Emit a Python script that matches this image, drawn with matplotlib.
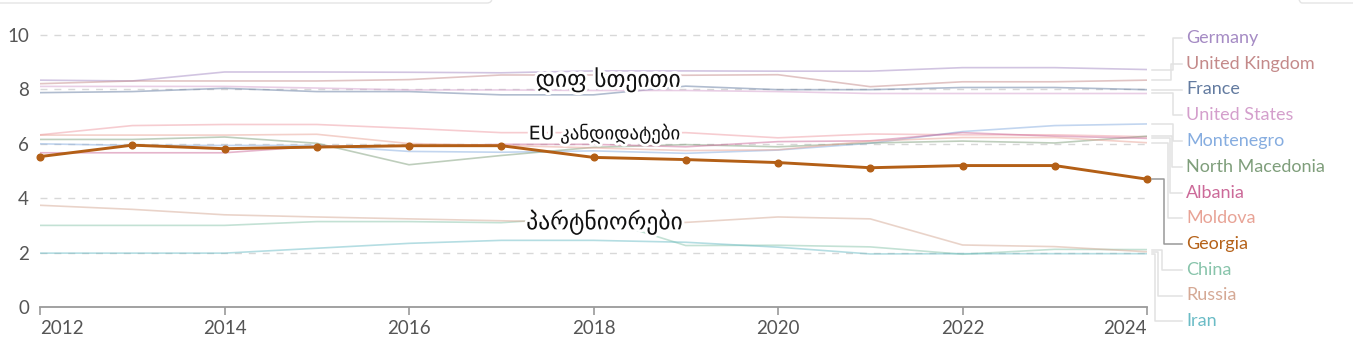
import matplotlib
matplotlib.use("Agg")
import matplotlib.pyplot as plt
from matplotlib.lines import Line2D
from matplotlib.patches import FancyBboxPatch
from matplotlib.transforms import IdentityTransform
import matplotlib.patheffects as pe

years = list(range(2012, 2025))

germany = [8.34, 8.31, 8.64, 8.64, 8.63, 8.61, 8.68, 8.68, 8.67, 8.67, 8.80, 8.80, 8.73]
united_kingdom = [8.21, 8.31, 8.31, 8.31, 8.36, 8.53, 8.53, 8.52, 8.54, 8.10, 8.28, 8.28, 8.34]
france = [7.88, 7.92, 8.04, 7.92, 7.92, 7.80, 7.80, 8.12, 7.99, 7.99, 8.07, 8.07, 7.99]
united_states = [8.11, 8.11, 8.11, 8.05, 7.98, 7.98, 7.96, 7.96, 7.92, 7.85, 7.85, 7.85, 7.85]
montenegro = [6.00, 5.94, 5.94, 5.94, 5.72, 5.69, 5.74, 5.65, 5.77, 6.02, 6.45, 6.67, 6.73]
north_macedonia = [6.16, 6.16, 6.25, 6.02, 5.23, 5.57, 5.87, 5.97, 5.89, 6.03, 6.10, 6.03, 6.28]
albania = [5.67, 5.67, 5.67, 5.91, 5.91, 5.98, 5.98, 5.89, 6.08, 6.11, 6.41, 6.28, 6.20]
moldova = [6.32, 6.32, 6.32, 6.35, 6.01, 5.94, 5.85, 5.75, 5.78, 6.10, 6.23, 6.23, 6.04]
serbia = [6.33, 6.67, 6.71, 6.71, 6.57, 6.41, 6.41, 6.41, 6.22, 6.36, 6.33, 6.33, 6.26]
georgia = [5.53, 5.95, 5.82, 5.88, 5.93, 5.93, 5.50, 5.42, 5.31, 5.12, 5.20, 5.20, 4.70]
china = [3.00, 3.00, 3.00, 3.14, 3.14, 3.10, 3.32, 2.26, 2.27, 2.21, 1.94, 2.12, 2.11]
russia = [3.74, 3.59, 3.39, 3.31, 3.24, 3.17, 3.11, 3.11, 3.31, 3.24, 2.28, 2.22, 2.03]
iran = [1.98, 1.98, 1.98, 2.16, 2.34, 2.45, 2.45, 2.38, 2.20, 1.95, 1.96, 1.96, 1.96]

labels = ["Germany", "United Kingdom", "France", "United States", "Montenegro",
          "North Macedonia", "Albania", "Moldova", "Georgia", "China", "Russia", "Iran"]
series = [germany, united_kingdom, france, united_states, montenegro,
          north_macedonia, albania, moldova, georgia, china, russia, iran]
colors = ["#a58bc4", "#c48a8a", "#637ba0", "#d49fcc", "#86ade0",
          "#7f9e7b", "#cc6a99", "#e8a396", "#b5621a", "#88c4ab", "#d5a995", "#6bbcc6"]
serbia_color = "#f0a3ab"

group_texts = ["დიფ სთეითი", "EU კანდიდატები", "პარტნიორები"]

W, H = 1353, 354
fig = plt.figure(figsize=(W / 100, H / 100), dpi=100)
ax = fig.add_axes([40 / W, 1 - 307 / H, (1147 - 40) / W, (307 - 35) / H])
ax.set_xlim(2012, 2024)
ax.set_ylim(0, 10)

# faint UI boxes cut off at the top edge
for x0, w in [(-10, 502), (1297, 70)]:
    fig.add_artist(FancyBboxPatch((x0, H - 3), w, 30, boxstyle="round,pad=0,rounding_size=5",
                                  transform=IdentityTransform(), fc="none", ec="#e4e4e4", lw=1))

for v in [2, 4, 6, 8, 10]:
    ax.axhline(v, color="#d8d8d8", lw=1, ls=(0, (5, 5)), zorder=0, clip_on=False)

ax.plot(years, serbia, color=serbia_color, lw=1.2, alpha=0.55, zorder=2)
for name, vals, c in zip(labels, series, colors):
    if name == "Georgia":
        continue
    ax.plot(years, vals, color=c, lw=1.2, alpha=0.5, zorder=2)
ax.plot(years, georgia, color="#b35f16", lw=2.1, marker="o", ms=4.8, zorder=5, clip_on=False)

for s in ["top", "right", "left"]:
    ax.spines[s].set_visible(False)
ax.spines["bottom"].set_color("#9a9a9a")
ax.spines["bottom"].set_linewidth(1.3)
ax.set_xticks(range(2012, 2025, 2))
ax.set_yticks([0, 2, 4, 6, 8, 10])
ax.tick_params(axis="x", length=6, width=1.2, color="#9a9a9a", labelsize=13.5,
               labelcolor="#555555", pad=3)
ax.tick_params(axis="y", length=0, labelsize=13.5, labelcolor="#555555", pad=8)
for t in ax.get_xticklabels() + ax.get_yticklabels():
    t.set_fontfamily("Lato")
xtl = ax.get_xticklabels()
xtl[0].set_horizontalalignment("left")
xtl[-1].set_horizontalalignment("right")

halo = [pe.withStroke(linewidth=4, foreground="white")]
ax.text(2018.16, 8.35, group_texts[0], fontsize=17, ha="center", va="center",
        family=["DejaVu Sans"], color="#111111", path_effects=halo, zorder=6)
ax.text(2018.12, 6.38, group_texts[1], fontsize=13.5, ha="center", va="center",
        family=["DejaVu Sans"], color="#111111", path_effects=halo, zorder=6)
ax.text(2018.12, 3.12, group_texts[2], fontsize=17, ha="center", va="center",
        family=["DejaVu Sans"], color="#111111", path_effects=halo, zorder=6)

# right-hand labels with elbow connectors (pixel coords from bottom-left)
label_x = 1186
label_py_top = [38 + i * 25.75 for i in range(len(labels))]
elbow_x = [1173, 1171, 1175, 1173, 1173, 1172, 1170, 1168, 1164, 1162, 1158, 1155]
for i, (name, vals, c) in enumerate(zip(labels, series, colors)):
    ly = H - label_py_top[i]
    _, sy = ax.transData.transform((2024, vals[-1]))
    sx = 1152
    ex = elbow_x[i]
    lc = "#999999" if name == "Georgia" else "#e2e2e2"
    fig.add_artist(Line2D([sx, ex, ex, label_x - 4], [sy, sy, ly, ly],
                          transform=IdentityTransform(), color=lc, lw=1.1))
    fig.text(label_x / W, ly / H, name, color=c, fontsize=13, family="Lato",
             ha="left", va="center")

fig.savefig("out.png", dpi=100)
